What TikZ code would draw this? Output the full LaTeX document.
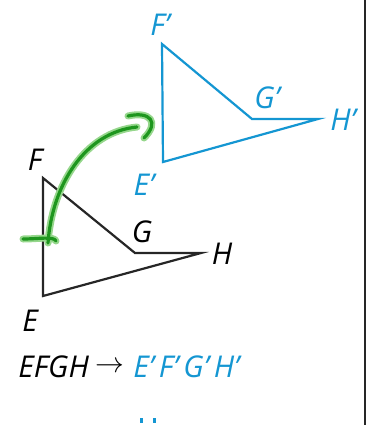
\documentclass[tikz,border=0pt]{standalone}
\usepackage{fontspec}
\setmainfont{Open Sans}
\usepackage{tikz}
\usetikzlibrary{positioning}
\definecolor{imgblue}{RGB}{20,150,210}
\definecolor{pengreen}{RGB}{30,150,30}
\definecolor{glowgreen}{RGB}{150,215,140}

\begin{document}
\begin{tikzpicture}[x=0.5pt,y=-0.5pt,
    lbl/.style={font=\itshape\fontsize{15}{15}\selectfont, inner sep=0pt},
    tri/.style={line width=1.1pt, line join=miter},
    glow/.style={line width=3.5pt, glowgreen, line cap=round, line join=round},
    pen/.style={line width=1.6pt, pengreen, line cap=round, line join=round}]
    \useasboundingbox (0,0) rectangle (368,425);
    \draw[black!85, line width=0.8pt] (365,0) -- (365,425);

    % preimage EFGH
    \coordinate (E) at (43,296);
    \coordinate (F) at (43,178);
    \coordinate (G) at (135,253);
    \coordinate (H) at (201,253);
    \draw[tri, black!85] (E) -- (F) -- (G) -- (H) -- cycle;
    \node[lbl] (labE) at (30,321) {E};
    \node[lbl] (labF) at (35,160) {F};
    \node[lbl] (labG) at (142,232) {G};
    \node[lbl] (labH) at (222,254) {H};

    % image E'F'G'H'
    \coordinate (E1) at (163,162);
    \coordinate (F1) at (162,44);
    \coordinate (G1) at (252,119);
    \coordinate (H1) at (318,119);
    \draw[tri, imgblue] (E1) -- (F1) -- (G1) -- (H1) -- cycle;
    \node[lbl, imgblue] (labE1) at (144,185) {E'};
    \node[lbl, imgblue] (labF1) at (160,25) {F'};
    \node[lbl, imgblue] (labG1) at (267,98) {G'};
    \node[lbl, imgblue] (labH1) at (343,120) {H'};

    % green turn mark
    \coordinate (arcS) at (48,243);
    \coordinate (arcT) at (137,127);
    \foreach \st in {glow,pen} {
        \draw[\st] (arcS) .. controls (52,185) and (85,132) .. (arcT);
        \draw[\st] (128,116) .. controls (150,111) and (160,122) .. (144,138);
        \draw[\st] (23,239) .. controls (38,239) and (54,236) .. (56,241);
    }

    % mapping
    \node[lbl, anchor=west] (pre) at (18,367) {EFGH};
    \node[right=3pt of pre, inner sep=0pt, font=\fontsize{14}{14}\selectfont] (maps) {$\rightarrow$};
    \node[lbl, imgblue, right=4pt of maps] (img) {E'\,F'\,G'\,H'};
    \fill[imgblue] (140,418) rectangle (143,423);
    \fill[imgblue] (153,418) rectangle (156,423);
\end{tikzpicture}
\end{document}
